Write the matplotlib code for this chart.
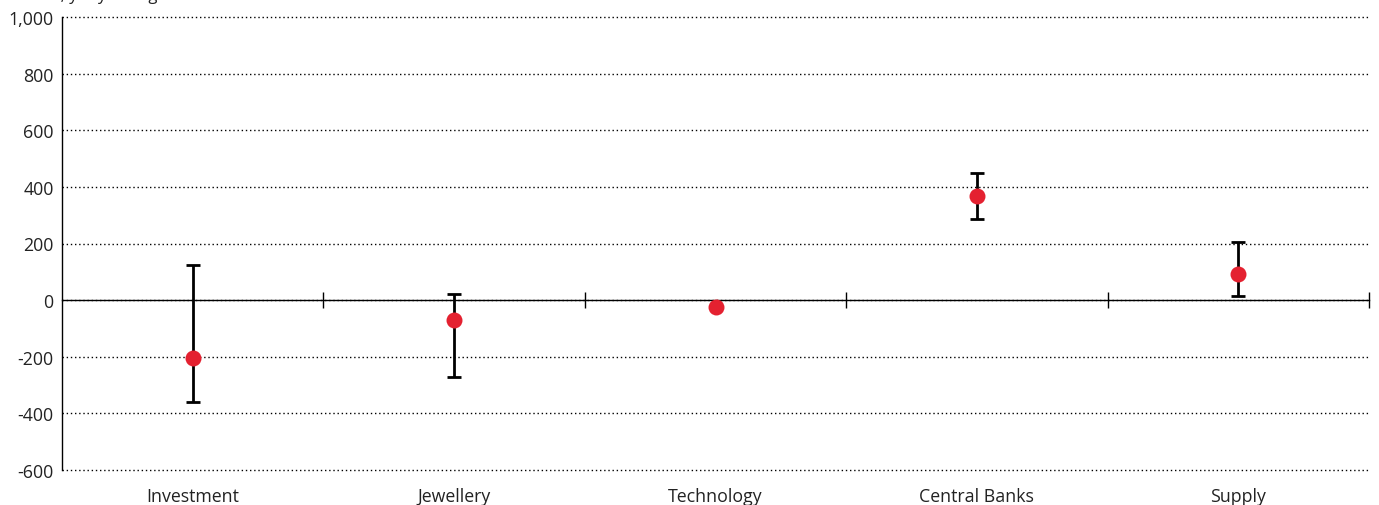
import matplotlib
matplotlib.use("Agg")
import matplotlib.pyplot as plt
from matplotlib.ticker import FuncFormatter
import numpy as np

# Year-on-year change by component, with range of estimates
categories = ["Investment", "Jewellery", "Technology", "Central Banks", "Supply"]
central = [-205, -70, -25, 367, 92]
low = [-360, -270, -28, 285, 14]
high = [125, 20, -22, 450, 205]
y_ticks = [-600, -400, -200, 0, 200, 400, 600, 800, 1000]

plt.rcParams["font.family"] = ["Open Sans", "DejaVu Sans"]

fig = plt.figure(figsize=(13.79, 5.06), dpi=100)
ax = fig.add_axes([62 / 1379, 35 / 506, 1307 / 1379, 453 / 506])

x = np.arange(len(categories))
central = np.array(central)
yerr = np.vstack([central - np.array(low), np.array(high) - central])

ax.errorbar(x, central, yerr=yerr, fmt="none", ecolor="black",
            elinewidth=2.0, capsize=5, capthick=2.0, zorder=3)
ax.plot(x, central, "o", color="#E42130", markersize=11.5, zorder=4,
        markeredgewidth=0)

ax.set_xlim(-0.5, len(categories) - 0.5)
ax.set_ylim(-600, 1000)
ax.set_yticks(y_ticks)
ax.yaxis.set_major_formatter(FuncFormatter(lambda v, p: f"{v:,.0f}"))
ax.tick_params(axis="y", length=0, pad=6, labelsize=12.8, labelcolor="#222222")

# dotted horizontal grid
ax.yaxis.grid(True, linestyle=(0, (1, 2)), color="black", linewidth=1.0)
for gl in ax.get_ygridlines():
    gl.set_clip_on(False)
ax.set_axisbelow(True)

for side in ["top", "right"]:
    ax.spines[side].set_visible(False)
ax.spines["left"].set_linewidth(1.0)
ax.spines["left"].set_color("black")

# zero line carries the category-boundary ticks
ax.spines["bottom"].set_position(("data", 0))
ax.spines["bottom"].set_linewidth(1.0)
ax.set_xticks(list(x + 0.5))
ax.tick_params(axis="x", direction="inout", length=12, width=1.0,
               labelbottom=False)

# category labels under the plot area
sec = ax.secondary_xaxis(0.0)
sec.set_xticks(list(x))
sec.set_xticklabels(categories)
sec.tick_params(length=0, pad=12.5, labelsize=12.8, labelcolor="#222222")
sec.spines["bottom"].set_visible(False)

fig.text(0.003, 1.0, "Tonnes, y-o-y change", fontsize=12, color="#222222",
         ha="left", va="baseline")

fig.savefig("out.png", dpi=100)
